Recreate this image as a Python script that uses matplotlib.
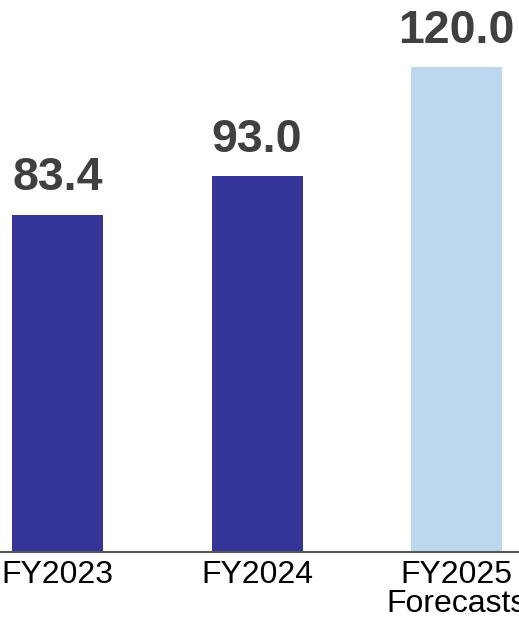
import matplotlib
matplotlib.use("Agg")
import matplotlib.pyplot as plt

# chart data
years = ["FY2023", "FY2024", "FY2025\nForecasts"]
values = [83.4, 93.0, 120.0]
colors = ["#353598", "#353598", "#BDD7EE"]

plt.rcParams['font.family'] = ['Liberation Sans', 'DejaVu Sans']

fig = plt.figure(figsize=(5.19, 6.2), dpi=100)
# baseline sits ~68px above the bottom edge
ax = fig.add_axes([0, 68 / 620, 1, 552 / 620])

x = range(len(years))
bars = ax.bar(x, values, width=0.456, color=colors)

for b, v in zip(bars, values):
    ax.text(b.get_x() + b.get_width() / 2, v + 3.6, f"{v:.1f}",
            ha="center", va="bottom", fontsize=33.5, fontweight="bold",
            color="#404040", clip_on=False)

ax.set_xlim(-0.288, 2.313)
ax.set_ylim(0, 136.6)
ax.set_xticks(list(x))
ax.set_xticklabels(years, fontsize=23, color="black", linespacing=0.95)
for lbl in ax.get_xticklabels():
    lbl.set_clip_on(False)
ax.tick_params(axis="x", length=0, pad=6)
ax.set_yticks([])

for s in ["top", "left", "right"]:
    ax.spines[s].set_visible(False)
ax.spines["bottom"].set_color("#595959")
ax.spines["bottom"].set_linewidth(1.5)

fig.savefig("out.png", dpi=100)
